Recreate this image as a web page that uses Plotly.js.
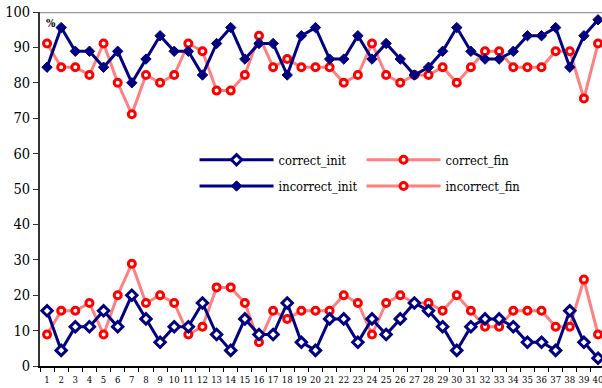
<!DOCTYPE html>
<html>
<head>
<meta charset="utf-8">
<script src="https://cdn.plot.ly/plotly-3.0.1.min.js"></script>
<style>html,body{margin:0;padding:0;background:#fff;}</style>
</head>
<body>
<div id="chart" style="width:602px;height:388px;"></div>
<script>
var categories = ["1","2","3","4","5","6","7","8","9","10","11","12","13","14","15","16","17","18","19","20",
  "21","22","23","24","25","26","27","28","29","30","31","32","33","34","35","36","37","38","39","40"];

var correctInit = [15.6,4.4,11.1,11.1,15.6,11.1,20.0,13.3,6.7,11.1,11.1,17.8,8.9,4.4,13.3,8.9,8.9,17.8,6.7,4.4,
  13.3,13.3,6.7,13.3,8.9,13.3,17.8,15.6,11.1,4.4,11.1,13.3,13.3,11.1,6.7,6.7,4.4,15.6,6.7,2.2];
var correctFin = [8.9,15.6,15.6,17.8,8.9,20.0,28.9,17.8,20.0,17.8,8.9,11.1,22.2,22.2,17.8,6.7,15.6,13.3,15.6,15.6,
  15.6,20.0,17.8,8.9,17.8,20.0,17.8,17.8,15.6,20.0,15.6,11.1,11.1,15.6,15.6,15.6,11.1,11.1,24.4,8.9];
var incorrectInit = [84.4,95.6,88.9,88.9,84.4,88.9,80.0,86.7,93.3,88.9,88.9,82.2,91.1,95.6,86.7,91.1,91.1,82.2,93.3,95.6,
  86.7,86.7,93.3,86.7,91.1,86.7,82.2,84.4,88.9,95.6,88.9,86.7,86.7,88.9,93.3,93.3,95.6,84.4,93.3,97.8];
var incorrectFin = [91.1,84.4,84.4,82.2,91.1,80.0,71.1,82.2,80.0,82.2,91.1,88.9,77.8,77.8,82.2,93.3,84.4,86.7,84.4,84.4,
  84.4,80.0,82.2,91.1,82.2,80.0,82.2,82.2,84.4,80.0,84.4,88.9,88.9,84.4,84.4,84.4,88.9,88.9,75.6,91.1];

var yTicks = [0,10,20,30,40,50,60,70,80,90,100];

var navy = '#000080';
var red = '#FF0000';
var pink = '#FF8080';
var serif = 'DejaVu Serif Condensed';

var traces = [
  {x: categories, y: correctFin, name: 'correct_fin', mode: 'lines+markers', legend: 'legend',
   line: {color: pink, width: 3}, marker: {symbol: 'circle', size: 7, color: '#ffffff', line: {color: red, width: 3}}},
  {x: categories, y: incorrectFin, name: 'incorrect_fin', mode: 'lines+markers', legend: 'legend2',
   line: {color: pink, width: 3}, marker: {symbol: 'circle', size: 7, color: '#ffffff', line: {color: red, width: 3}}},
  {x: categories, y: correctInit, name: 'correct_init', mode: 'lines+markers', legend: 'legend',
   line: {color: navy, width: 3}, marker: {symbol: 'diamond', size: 8, color: '#ffffff', line: {color: navy, width: 3}}},
  {x: categories, y: incorrectInit, name: 'incorrect_init', mode: 'lines+markers', legend: 'legend2',
   line: {color: navy, width: 3}, marker: {symbol: 'diamond', size: 8, color: navy, line: {color: navy, width: 1}}}
];

var legendCommon = {
  orientation: 'h', xanchor: 'left', yanchor: 'middle', x: 0.275,
  bgcolor: 'rgba(0,0,0,0)', borderwidth: 0, itemwidth: 74,
  entrywidth: 78, traceorder: 'reversed',
  font: {family: serif, size: 12.8, color: '#000'}
};

var layout = {
  width: 602, height: 388,
  margin: {l: 40, r: 0, t: 12, b: 22},
  paper_bgcolor: '#fff', plot_bgcolor: '#fff',
  font: {family: serif, color: '#000'},
  showlegend: true,
  legend: Object.assign({}, legendCommon, {y: 0.582}),
  legend2: Object.assign({}, legendCommon, {y: 0.508}),
  xaxis: {
    type: 'category', range: [-0.5, 39.28], tickson: 'boundaries',
    ticks: 'outside', ticklen: 4, tickcolor: '#000', tickwidth: 1,
    showline: true, linecolor: '#000', linewidth: 1.5, showgrid: false, zeroline: false,
    tickfont: {family: serif, size: 9.5, color: '#000'}, tickangle: 0, ticklabelstandoff: 4
  },
  yaxis: {
    range: [0, 100], tickvals: yTicks, ticks: 'outside', ticklen: 5, tickcolor: '#333',
    showline: true, linecolor: '#333', linewidth: 2, showgrid: false, zeroline: false,
    tickfont: {family: serif, size: 14.5, color: '#000'}
  },
  shapes: [{type: 'line', xref: 'paper', yref: 'y', x0: 0, x1: 1, y0: 100, y1: 100,
            line: {color: '#999', width: 2.5}}],
  annotations: [{xref: 'paper', yref: 'paper', x: 0.008, y: 0.967, xanchor: 'left', yanchor: 'middle',
                 text: '<b>%</b>', showarrow: false, font: {family: serif, size: 11, color: '#000'}}]
};

Plotly.newPlot('chart', traces, layout, {displayModeBar: false, staticPlot: true});
</script>
</body>
</html>
